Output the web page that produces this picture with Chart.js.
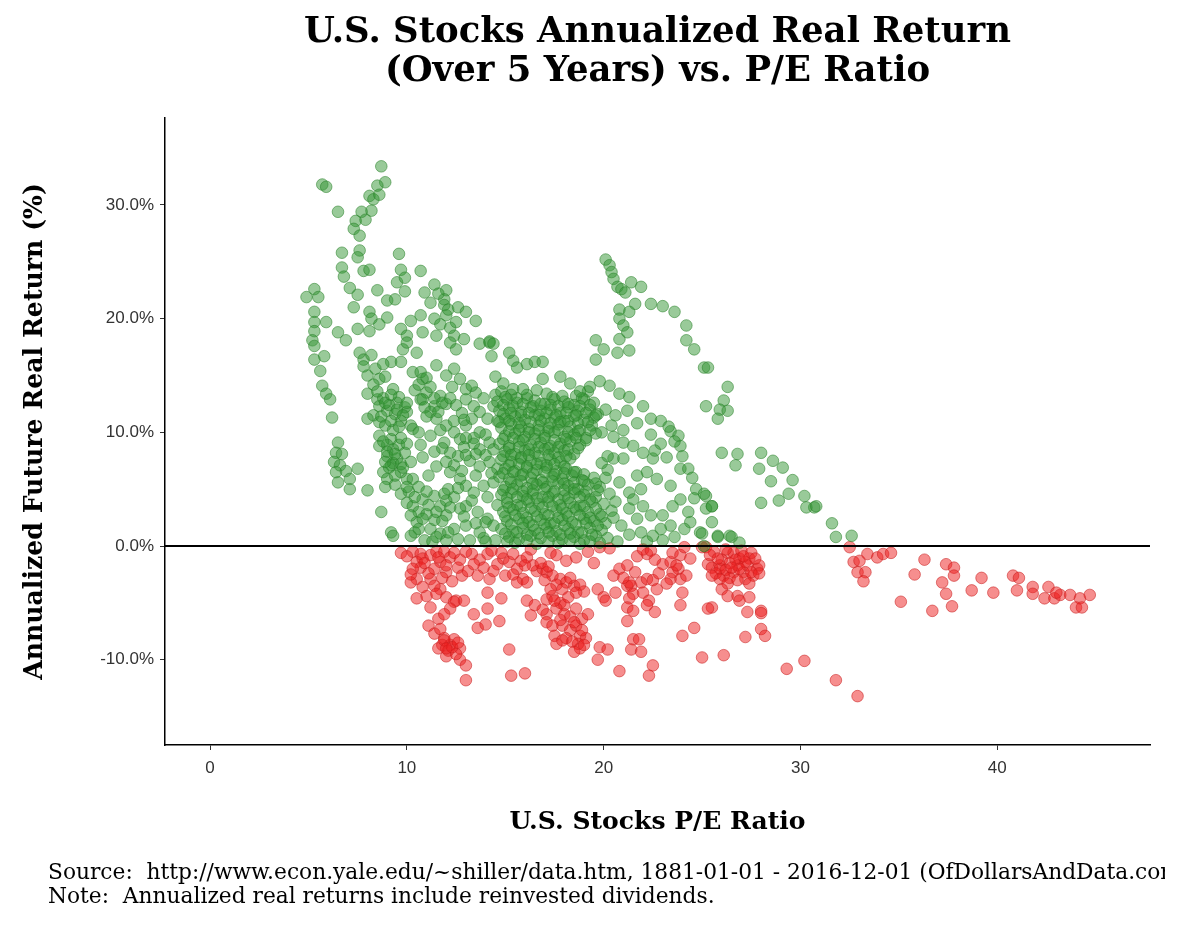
<!DOCTYPE html>
<html lang="en">
<head>
<meta charset="utf-8"/>
<title>U.S. Stocks Annualized Real Return vs. P/E Ratio</title>
<script src="https://cdn.jsdelivr.net/npm/chart.js"></script>
<style>
  body { margin: 0; background: #fff; }
  canvas { display: block; }
</style>
</head>
<body>
<canvas id="scatter" width="1200" height="931"></canvas>
<script>
// P/E ratio vs annualized 5-year real return (%)
const greenUpperLeft = [
  [8.7,33.4],[5.7,31.8],[5.9,31.6],[8.9,32.0],[8.5,31.7],[8.1,30.8],[8.3,30.5],[8.6,30.9],[8.2,29.5],[7.7,29.4],
  [6.5,29.4],[7.4,28.6],[7.9,28.7],[7.3,27.9],[7.6,27.3],[6.7,25.8],[7.6,26.0],[7.5,25.4],[9.6,25.7],[6.7,24.5],
  [6.8,23.7],[7.8,24.2],[8.1,24.3],[10.7,24.2],[9.7,24.3],[9.5,23.2],[9.9,23.6],[7.1,22.7],[7.5,22.1],[7.3,21.0],
  [8.5,22.5],[9.9,22.4],[5.3,22.6],[4.9,21.9],[5.5,21.9],[11.4,23.0],[12.0,22.5],[11.9,21.7],[9.0,21.6],[9.4,21.7],
  [8.1,20.6],[8.2,20.0],[5.3,20.6],[5.3,19.7],[5.3,18.9],[5.2,18.1],[5.9,19.7],[6.5,18.8],[6.9,18.1],[7.5,19.1],
  [8.1,18.9],[8.6,19.5],[9.0,20.1],[10.2,19.8],[10.7,20.3],[11.4,20.0],[12.0,20.3],[12.5,19.7],[13.5,19.8],[14.2,17.9],
  [9.7,19.1],[10.0,18.5],[10.8,18.8],[11.5,18.5],[12.4,18.5],[12.9,18.2],[11.6,22.2],[11.9,21.2],[12.1,20.8],[11.7,19.5],
  [12.2,19.2],[12.6,21.0],[13.0,20.6],[11.2,21.4],[10.9,22.3],[13.7,17.8],[14.2,18.0]
];
const greenLeft = [
  [5.3,17.6],[5.8,16.7],[5.3,16.4],[5.6,15.4],[5.7,14.1],[5.9,13.4],[6.1,12.9],[6.2,11.3],
  [6.5,9.1],[6.4,8.2],[6.7,8.1],[6.3,7.4],[6.6,7.1],[6.4,6.5],[6.9,6.6],[6.5,5.6],[7.1,5.9],[7.5,6.8],[7.1,5.0],[8.0,4.9],
  [7.6,17.0],[7.8,16.4],[8.0,15.0],[8.6,14.7],[9.2,16.2],[9.7,16.2],[9.8,17.3],[10.0,17.9],
  [10.3,15.3],[10.8,14.7],[11.0,13.5],[10.7,12.9],[11.4,12.3],[11.7,13.2],
  [8.0,13.4],[8.5,12.9],[8.6,12.3],[9.0,11.9],[8.3,11.5],[8.0,11.2],[8.6,10.9],
  [9.3,13.8],[9.5,12.6],[10.0,11.8],[10.2,10.6],[10.3,10.3],
  [8.6,9.7],[9.2,9.4],[9.3,8.5],[9.0,7.9],[9.5,7.7],[9.2,7.1],[8.8,6.5],[9.7,6.5],[9.0,5.9],[10.0,5.9],[10.3,5.9],
  [8.7,3.0],[9.2,1.2],[9.3,0.9],[10.0,3.8],[10.3,3.5],[10.8,4.1],[11.4,4.4],[11.7,3.5],[12.0,2.7],
  [10.5,2.1],[11.2,1.5],[11.7,1.1],[10.2,0.9],[10.7,15.3],[10.5,17.0],[11.5,15.9],[12.0,15.0],[12.4,15.6],
  [10.8,12.9],[11.2,11.8],[11.5,11.2],[12.0,10.6],[12.4,10.0],[12.7,9.4],[11.9,9.1],[12.2,8.2],[12.0,7.4],[12.4,7.1],
  [12.2,17.9],[12.5,17.3],[12.7,14.7],[13.0,13.8],[13.0,12.9],[13.4,12.3],[13.7,11.8],[14.1,11.2],[14.4,12.3],
  [13.7,10.0],[14.2,9.1],[14.4,8.5],[13.7,8.5],[12.7,5.9],[13.0,5.3],[13.4,4.7],[13.9,5.3],[14.4,5.6],
  [13.0,3.5],[13.6,3.0],[14.1,2.4],[14.4,1.8],[13.7,1.2],[13.0,1.8],
  [8.8,13.0],[9.1,12.4],[9.4,11.6],[9.7,11.0],[8.9,10.6],[9.3,10.2],[9.9,12.2],[9.6,13.1],[8.6,8.8],[9.0,8.9],
  [9.6,8.9],[9.9,8.2],[9.3,7.3],[9.7,7.2],[9.1,6.9],[8.9,5.2],[9.4,5.4],[9.7,4.6],[10.1,4.8],[10.6,3.0],
  [11.0,2.8],[11.4,2.3],[10.9,0.5],[11.3,0.4],[10.4,1.2],
  [13.5,13.5],[13.9,13.0],[14.5,13.3],[14.6,11.0],[14.0,9.8],[13.4,9.5],[13.2,7.5],[13.7,7.0],[14.2,7.4],[14.6,6.8],
  [13.5,6.2],[14.1,4.3],[14.6,3.6],[13.9,0.7],[14.5,0.5],[13.0,10.6],[13.3,11.2],[12.8,11.7],[12.9,8.7],[12.6,7.9],
  [12.8,6.6],[12.4,4.3],[12.7,3.3],[12.9,2.6],[12.4,1.5],[12.6,0.6],
  [12.3,14.0],[13.3,14.1],[12.0,12.5],[12.5,12.4],[12.4,11.0],[12.9,11.1],[13.0,9.5],[13.4,9.0],[13.0,8.0],[13.5,8.1],
  [14.0,8.0],[12.2,6.5],[14.3,6.4],[12.1,5.0],[12.6,5.1],[12.0,4.0],[13.3,4.0],[13.5,2.0],[14.0,2.1],[12.0,0.5],
  [13.2,0.5],[14.0,0.4]
];
const greenLeftDense = [
  [7.8,15.8],[8.2,16.8],[8.4,15.6],[8.8,16.0],[8.3,14.2],[8.9,14.9],[8.5,13.6],[8.9,12.6],[9.2,13.3],[9.5,12.0],
  [9.8,11.5],[9.2,11.0],[8.7,11.4],[9.6,10.5],[10.0,12.6],[10.4,13.7],[10.6,14.2],[11.0,14.8],[11.2,14.0],[11.4,13.0],
  [10.9,12.2],[11.0,11.4],[11.6,11.8],[11.8,12.6],[12.2,13.0],[8.8,9.2],[9.0,8.3],[9.4,8.1],[9.7,9.5],[10.0,9.0],
  [9.4,6.2],[9.8,6.9],[10.2,7.4],[8.9,7.4],[10.0,5.2],[10.4,4.3],[10.6,5.2],[11.0,4.8],[11.1,3.6],[11.5,3.0],
  [10.8,2.4],[10.2,2.7],[11.8,2.2],[12.2,3.4],[11.9,4.6],[10.6,1.5],[11.5,0.8],[12.1,1.2],[11.1,6.2],[11.5,7.0],
  [10.8,7.8],[11.4,8.3],[11.8,8.6],[10.7,8.9],[11.2,9.7],[10.6,10.0],[11.7,10.2]
];
const greenCentre = [
  [14.8,13.6],[15.3,13.3],[16.6,13.7],[17.1,13.4],[18.6,13.2],[19.2,13.6],
  [14.6,12.7],[15.1,12.9],[15.6,12.6],[16.1,13.0],[16.5,12.8],[17.0,12.5],[17.5,12.9],[18.0,12.7],[18.5,12.4],[19.0,12.9],[19.5,12.6],
  [14.7,11.9],[15.2,12.1],[15.8,11.8],[16.3,12.2],[16.8,11.9],[17.3,12.0],[17.8,11.7],[18.2,12.2],[18.7,11.9],[19.3,12.0],[19.7,11.6],
  [15.0,11.2],[15.5,11.4],[16.0,11.1],[16.5,11.5],[17.0,11.2],[17.5,11.3],[18.0,11.0],[18.5,11.4],[19.0,11.1],[19.5,11.3],
  [14.8,10.4],[15.3,10.7],[15.8,10.5],[16.2,10.3],[16.7,10.6],[17.2,10.4],[17.7,10.7],[18.3,10.5],[18.8,10.2],[19.4,10.6],
  [15.0,9.7],[15.5,9.9],[16.0,9.6],[16.5,9.9],[17.0,9.7],[17.5,10.0],[18.0,9.6],[18.5,9.8],[19.1,9.5],[19.6,9.9],
  [14.7,9.0],[15.2,8.8],[15.7,9.2],[16.3,8.9],[16.8,9.1],[17.3,8.8],[17.8,9.0],[18.3,9.2],[18.8,8.9],
  [15.0,8.3],[15.5,8.1],[16.0,8.4],[16.5,8.2],[17.0,8.5],[17.5,8.2],[18.0,8.4],[18.5,8.1],
  [14.8,7.6],[15.3,7.4],[15.8,7.7],[16.3,7.5],[16.8,7.3],[17.3,7.6],[17.8,7.4],[18.3,7.7],[19.9,7.3],
  [15.0,6.8],[15.5,6.6],[16.1,6.9],[16.6,6.7],[17.1,6.9],[17.6,6.6],[18.1,6.8],[18.6,6.5],[20.2,6.7],
  [14.7,6.1],[15.2,5.9],[15.8,6.2],[16.3,6.0],[16.8,5.8],[17.4,6.1],[17.9,5.9],[18.4,6.2],[18.9,5.8],[19.5,6.0],
  [15.0,5.2],[15.6,5.4],[16.1,5.1],[16.6,5.4],[17.1,5.2],[17.7,5.5],[18.2,5.3],[18.7,5.0],[19.2,5.4],[19.8,5.2],
  [14.8,4.5],[15.3,4.7],[15.9,4.4],[16.4,4.6],[16.9,4.3],[17.4,4.6],[18.0,4.4],[18.5,4.7],[19.0,4.5],[19.6,4.3],[20.3,4.6],
  [15.1,3.8],[15.6,3.6],[16.2,3.9],[16.7,3.7],[17.2,3.9],[17.8,3.6],[18.3,3.8],[18.8,3.5],[19.4,3.9],[20.0,3.7],[20.6,3.9],
  [14.9,3.0],[15.4,3.2],[15.9,2.9],[16.5,3.1],[17.0,2.8],[17.6,3.1],[18.1,2.9],[18.6,3.2],[19.2,3.0],[19.8,2.8],[20.4,3.1],
  [15.1,2.2],[15.7,2.4],[16.2,2.1],[16.8,2.3],[17.3,2.0],[17.9,2.3],[18.4,2.1],[19.0,2.4],[19.5,2.2],[20.1,2.0],
  [14.8,1.5],[15.4,1.3],[15.9,1.6],[16.5,1.4],[17.1,1.6],[17.6,1.3],[18.2,1.5],[18.7,1.2],[19.3,1.6],[19.9,1.4],
  [15.2,0.8],[15.7,0.6],[16.3,0.9],[16.8,0.7],[17.4,0.9],[17.9,0.6],[18.5,0.8],[19.0,0.5],[19.6,0.9],[20.2,0.7],
  [15.5,0.3],[16.6,0.2],[17.7,0.3],[18.8,0.2],[19.8,0.3]
];
const greenCentreDense = [
  [15.0,13.1],[15.6,13.0],[16.1,13.3],[17.4,13.1],[17.9,13.2],[18.9,13.0],
  [14.9,12.4],[15.4,12.3],[15.9,12.5],[16.4,12.3],[16.8,12.5],[17.3,12.4],[17.7,12.3],[18.2,12.5],[18.8,12.3],[19.3,12.4],
  [14.9,11.6],[15.3,11.7],[15.8,11.5],[16.2,11.7],[16.7,11.5],[17.1,11.7],[17.6,11.5],[18.1,11.7],[18.6,11.5],[19.1,11.7],[19.6,11.5],
  [14.7,10.9],[15.2,11.0],[15.7,10.8],[16.3,10.9],[16.8,11.0],[17.3,10.8],[17.8,10.9],[18.2,11.0],[18.7,10.8],[19.2,10.9],
  [15.2,10.1],[15.7,10.2],[16.2,10.0],[16.7,10.2],[17.2,10.1],[17.7,10.2],[18.2,10.0],[18.7,10.1],[19.3,10.2],
  [14.9,9.4],[15.4,9.5],[15.9,9.3],[16.5,9.4],[17.0,9.5],[17.5,9.3],[18.1,9.4],[18.6,9.5],[19.1,9.3],
  [15.2,8.6],[15.7,8.7],[16.2,8.5],[16.7,8.7],[17.2,8.6],[17.7,8.7],[18.2,8.5],[18.7,8.6],
  [14.9,7.9],[15.3,8.0],[15.8,7.8],[16.2,8.0],[16.7,7.9],[17.2,8.0],[17.7,7.8],[18.1,7.9],
  [15.2,7.1],[15.7,7.2],[16.1,7.0],[16.6,7.2],[17.1,7.1],[17.5,7.2],[18.0,7.0],
  [14.9,6.4],[15.4,6.5],[15.9,6.3],[16.4,6.4],[17.0,6.5],[17.5,6.3],[18.0,6.4],[18.5,6.5],[19.0,6.3],
  [15.3,5.6],[15.8,5.7],[16.4,5.5],[16.9,5.6],[17.4,5.7],[18.0,5.5],[18.5,5.6],[19.0,5.7],[19.6,5.5],
  [14.9,4.9],[15.4,5.0],[15.9,4.8],[16.4,4.9],[17.0,5.0],[17.5,4.8],[18.0,4.9],[18.5,5.0],[19.1,4.8],[19.7,4.9],
  [15.1,4.2],[15.6,4.3],[16.1,4.1],[16.6,4.2],[17.2,4.3],[17.7,4.1],[18.2,4.2],[18.8,4.3],[19.3,4.1],
  [15.2,3.4],[15.8,3.5],[16.3,3.3],[16.9,3.4],[17.4,3.5],[17.9,3.3],[18.5,3.4],[19.0,3.5],[19.6,3.3],
  [15.0,2.6],[15.5,2.7],[16.1,2.5],[16.6,2.6],[17.2,2.7],[17.7,2.5],[18.2,2.6],[18.8,2.7],[19.3,2.5],[19.9,2.6],
  [15.3,1.9],[15.9,2.0],[16.4,1.8],[17.0,1.9],[17.5,2.0],[18.0,1.8],[18.6,1.9],[19.1,2.0],[19.7,1.8],
  [15.0,1.1],[15.6,1.2],[16.1,1.0],[16.7,1.1],[17.2,1.2],[17.8,1.0],[18.3,1.1],[18.9,1.2],[19.4,1.0],
  [15.1,0.4],[16.1,0.5],[17.2,0.4],[18.3,0.5],[19.3,0.4]
];
const greenUpperRight = [
  [20.1,25.2],[20.3,24.7],[20.4,24.1],[20.5,23.5],[20.7,22.8],[20.9,22.6],[21.1,22.3],[21.4,23.2],[21.9,22.8],
  [21.6,21.3],[21.3,20.6],[20.8,20.8],[20.8,20.0],[21.0,19.4],[21.2,18.8],[20.8,18.2],
  [22.4,21.3],[23.0,21.1],[23.6,20.6],[24.2,19.4],[24.2,18.1],[24.6,17.3],[25.1,15.7],[25.3,15.7],
  [26.3,14.0],[26.1,12.8],[25.9,12.0],[25.8,11.2],[25.2,12.3],[26.3,11.9],
  [19.6,18.1],[20.0,17.3],[19.6,16.4],[20.7,17.0],[21.3,17.2],
  [14.4,17.8],[14.3,16.7],[15.2,17.0],[15.4,16.3],[15.6,15.7],[16.1,16.0],[16.5,16.2],[16.9,16.2],
  [14.5,14.9],[14.9,14.3],[15.4,13.8],[15.9,13.8],[16.9,14.7],[17.8,14.9],[18.3,14.3],[18.8,13.6],[19.3,14.0],
  [19.8,14.5],[20.3,14.1],[20.8,13.4],[21.3,13.1],[22.0,12.3],[22.4,11.2],[22.9,11.0],[23.4,10.1],[23.8,9.7],[23.9,8.8]
];
const greenRight = [
  [21.0,9.1],[21.5,8.8],[22.0,8.2],[21.0,7.7],[20.5,7.7],[20.2,7.9],
  [22.5,7.7],[23.2,7.8],[23.9,6.8],[23.4,5.3],[22.7,5.9],[22.2,6.5],[21.7,6.2],[21.9,5.0],
  [20.1,6.0],[20.8,5.6],[21.3,4.7],[24.7,5.0],[25.2,4.4],[25.5,3.5],[24.4,2.1],[24.9,1.2],[25.8,0.9],[26.4,0.9],[26.9,0.3],
  [23.9,4.1],[23.5,3.5],[23.0,2.7],[23.4,1.8],[22.9,1.5],[22.5,0.9],
  [21.5,4.1],[22.0,3.5],[21.3,3.3],[21.7,2.4],[22.4,2.7],
  [23.3,10.5],[23.6,9.2],[24.0,7.9],[24.3,6.8],[24.5,6.0],
  [20.1,12.0],[20.6,11.5],[21.2,11.9],[20.4,10.6],[21.0,10.2],[21.7,10.8],[19.9,10.0],[20.5,9.6],[22.4,9.8],[22.9,9.0],[22.6,8.4],
  [20.5,2.5],[20.9,1.8],[21.3,1.0],[20.7,0.4],[21.9,1.2],[22.2,0.4],[23.0,0.5],[23.6,0.8],[24.1,1.5],[24.3,3.0],[24.6,4.2],
  [26.0,8.2],[26.8,8.1],[26.7,7.1],[28.0,8.2],[27.9,6.8],[28.6,7.5],[29.1,6.9],[28.5,5.7],[29.6,5.8],[28.0,3.8],
  [28.9,4.0],[29.4,4.6],[30.2,4.4],[30.7,3.4],[30.3,3.4],[30.8,3.5],[31.6,2.0],[31.8,0.8],[32.6,0.9],[25.1,4.6],
  [25.2,3.3],[25.5,3.5],[25.5,2.1],[25.0,1.1],[25.8,0.8],[26.5,0.8],[25.1,0.0]
];
const redLeft = [
  [9.7,-0.6],[10.3,-0.5],[10.7,-0.7],[10.5,-1.4],[10.8,-1.1],[11.2,-0.8],[11.5,-0.5],[11.9,-0.5],[12.2,-1.0],[11.7,-1.4],
  [11.4,-2.0],[10.7,-1.9],[10.3,-2.0],[12.0,-2.3],[11.2,-2.9],[10.5,-2.9],[10.2,-3.2],[10.5,-4.6],[11.0,-4.4],[11.7,-3.8],
  [12.0,-4.5],[12.5,-4.8],[12.9,-4.8],[12.4,-4.9],[11.2,-5.4],[11.6,-6.4],[11.1,-7.0],[11.4,-7.7],[11.9,-8.1],[12.2,-8.7],
  [11.8,-8.7],[12.7,-9.0],[12.1,-9.2],[12.7,-10.0],[13.0,-10.5],[13.0,-11.8],
  [10.0,-0.9],[10.9,-1.5],[11.1,-2.4],[11.6,-1.0],[12.0,-1.7],[12.4,-0.6],[12.6,-1.9],[11.8,-2.8],[11.4,-3.5],[10.8,-3.6],
  [10.2,-2.5],[12.3,-3.1],[12.8,-2.6],[11.5,-4.2],[12.2,-5.5],[11.9,-6.0],[11.7,-7.3],[12.4,-8.2],[12.0,-9.7],[11.6,-9.0],
  [12.5,-9.5],[11.9,-8.3],[12.3,-8.9],[12.6,-8.5],[12.0,-9.0]
];
const redCentre = [
  [12.7,-1.2],[13.1,-2.2],[13.3,-0.7],[13.7,-1.2],[14.1,-0.7],[13.9,-1.9],[13.6,-2.6],[14.2,-2.9],[14.6,-1.6],[14.9,-1.1],
  [15.2,-1.4],[15.8,-1.3],[15.6,-2.0],[16.1,-1.0],[16.3,-0.3],[17.3,-0.6],[15.9,-2.9],[15.6,-3.2],[16.1,-3.2],[14.1,-4.1],
  [14.8,-4.6],[14.1,-5.5],[13.4,-6.0],[13.6,-7.2],[14.0,-6.9],[14.7,-6.6],[15.2,-9.1],[15.3,-11.4],[16.0,-11.2],
  [16.6,-2.2],[16.9,-2.0],[17.1,-2.3],[17.4,-2.6],[17.8,-2.9],[18.1,-3.2],[18.5,-3.5],[18.3,-2.8],[18.8,-3.4],[19.0,-4.0],
  [18.6,-4.1],[16.1,-4.8],[16.5,-5.2],[17.1,-4.7],[17.4,-4.4],[17.8,-5.0],[18.0,-5.2],[17.6,-5.5],[18.0,-6.0],[18.3,-6.2],
  [17.1,-6.0],[17.1,-6.7],[17.4,-7.0],[17.9,-7.0],[18.3,-7.4],[18.6,-7.0],[18.9,-6.4],[18.8,-7.9],[19.1,-8.1],[18.7,-8.6],
  [18.8,-9.0],[18.1,-8.1],[17.5,-7.9],[17.6,-8.6],[17.6,-0.8],[18.1,-1.3],[18.6,-1.0],[19.2,-0.5],[19.5,-1.5],[19.8,-0.1],[20.3,-0.2],
  [16.4,-1.7],[16.8,-1.5],[17.2,-1.8],[17.0,-3.0],[17.6,-3.4],[17.3,-3.8],[17.9,-3.8],[18.2,-4.5],[17.5,-4.8],[17.8,-6.5],
  [18.5,-6.7],[18.9,-7.4],[18.4,-8.4],[19.0,-8.7],[18.5,-9.3],[17.9,-8.3],[18.6,-5.5],[19.2,-6.0],[16.9,-5.6],[16.3,-6.1],
  [13.4,-1.6],[14.4,-2.2],[14.8,-0.6],[15.4,-0.7],[15.0,-2.6],[15.4,-2.5],[16.0,-1.7],[13.0,-0.5],[14.3,-0.4]
];
const redRightCentre = [
  [19.7,-3.8],[20.0,-4.5],[20.1,-4.8],[20.6,-4.1],[21.2,-3.5],[21.4,-3.5],[21.5,-4.2],[21.3,-4.6],[21.2,-5.4],[21.5,-5.7],
  [21.2,-6.6],[21.5,-8.2],[21.8,-8.2],[21.4,-9.1],[21.9,-9.3],[22.5,-10.5],[22.3,-11.4],[20.8,-11.0],[19.8,-8.9],[20.2,-9.1],[19.7,-10.0],
  [20.5,-2.6],[20.8,-2.0],[21.2,-1.7],[21.7,-0.9],[22.2,-0.7],[22.0,-0.3],[22.4,-0.4],[21.3,-3.2],[21.9,-3.2],[22.2,-2.9],
  [22.5,-3.0],[22.0,-4.1],[22.7,-3.8],[22.3,-4.8],[22.2,-5.2],[22.6,-5.8],[23.0,-1.6],[23.4,-1.4],[23.5,-0.6],[23.9,-0.8],
  [23.8,-2.0],[23.5,-2.3],[23.4,-2.9],[23.9,-2.9],[24.2,-2.6],[24.4,-1.1],[24.1,-0.1],[23.9,-5.2],[24.0,-4.1],[24.6,-7.2],
  [24.0,-7.9],[25.0,-0.1],[21.0,-2.8],[22.8,-2.4],[23.2,-3.3],[22.6,-1.2],[23.7,-1.7],[21.6,-2.3]
];
const redCluster = [
  [25.2,-0.1],[25.3,-1.6],[25.5,-1.9],[25.9,-1.7],[26.3,-0.6],[26.6,-0.6],[26.9,-1.1],[27.4,-1.1],[27.8,-2.0],[27.6,-2.6],
  [27.1,-2.3],[26.6,-2.3],[26.1,-2.6],[25.9,-2.0],[26.8,-1.7],[27.3,-1.7],[27.9,-1.7],[25.6,-0.5],[26.0,-1.2],[26.4,-1.5],
  [27.0,-0.4],[27.5,-0.6],[26.2,-2.1],[27.2,-2.9],[25.7,-2.4],
  [25.4,-0.8],[25.8,-1.1],[26.2,-0.3],[26.7,-1.2],[27.2,-1.4],[27.7,-1.1],[27.5,-2.3],[26.9,-2.0],[26.4,-2.8],[25.9,-2.9],
  [26.5,-1.9],[27.1,-0.9],[25.5,-2.6],[27.9,-2.4],[26.3,-3.3],[26.8,-3.0],[27.4,-3.3],
  [26.0,-3.8],[26.3,-4.4],[26.8,-4.4],[26.9,-4.8],[27.4,-4.5],[25.5,-5.4],[25.3,-5.5],[27.3,-5.8],[28.0,-5.7],[28.0,-5.9],
  [27.2,-8.0],[28.0,-7.3],[28.2,-7.9],[26.1,-9.6],[25.0,-9.8],[29.3,-10.8],[30.2,-10.1],[31.8,-11.8],[32.9,-13.2]
];
const redTail = [
  [32.5,-0.1],[32.7,-1.4],[33.0,-1.3],[33.4,-0.7],[33.9,-1.0],[34.2,-0.7],[34.6,-0.6],[32.9,-2.3],[33.3,-2.3],[33.2,-3.1],
  [35.1,-4.9],[36.3,-1.2],[35.8,-2.5],[37.4,-1.6],[37.8,-1.9],[37.8,-2.6],[37.2,-3.2],[37.4,-4.2],[36.7,-5.7],[37.7,-5.3],
  [38.7,-3.9],[39.2,-2.8],[39.8,-4.1],[40.8,-2.6],[41.1,-2.8],[41.0,-3.9],[41.8,-3.6],[41.8,-4.2],[42.6,-3.6],[42.4,-4.6],
  [42.9,-4.6],[43.2,-4.3],[43.7,-4.3],[44.2,-4.6],[44.7,-4.3],[44.0,-5.4],[44.3,-5.4],[43.0,-4.1]
];

const xTicks = [0, 10, 20, 30, 40];
const yTicks = [-10, 0, 10, 20, 30];

const toPoints = arr => arr.map(([x, y]) => ({ x, y }));
const greenData = toPoints([...greenUpperLeft, ...greenLeft, ...greenLeftDense, ...greenCentre,
  ...greenCentreDense, ...greenUpperRight, ...greenRight]);
const redData = toPoints([...redLeft, ...redCentre, ...redRightCentre, ...redCluster, ...redTail]);

const serif = '"DejaVu Serif", serif';

function fitSize(ctx, text, weight, family, width) {
  ctx.font = weight + ' 100px ' + family;
  return 100 * width / ctx.measureText(text).width;
}

const texts = {
  id: 'texts',
  afterDatasetsDraw(chart) {
    // zero reference line across the plot
    const ctx = chart.ctx;
    const a = chart.chartArea;
    const y0 = chart.scales.y.getPixelForValue(0);
    ctx.save();
    ctx.strokeStyle = '#000';
    ctx.lineWidth = 2;
    ctx.beginPath();
    ctx.moveTo(a.left, y0);
    ctx.lineTo(a.right, y0);
    ctx.stroke();
    ctx.restore();
  },
  afterDraw(chart) {
    const ctx = chart.ctx;
    const a = chart.chartArea;
    const cx = (a.left + a.right) / 2;
    ctx.save();
    ctx.fillStyle = '#000';
    ctx.textAlign = 'center';
    ctx.textBaseline = 'middle';

    const t1 = 'U.S. Stocks Annualized Real Return';
    const t2 = '(Over 5 Years) vs. P/E Ratio';
    const ts = fitSize(ctx, t1, 'bold', serif, 707);
    ctx.font = 'bold ' + ts + 'px ' + serif;
    ctx.fillText(t1, cx, 33);
    ctx.fillText(t2, cx, 72);

    const xt = 'U.S. Stocks P/E Ratio';
    ctx.font = 'bold ' + fitSize(ctx, xt, 'bold', serif, 296) + 'px ' + serif;
    ctx.fillText(xt, cx, 822);

    const yt = 'Annualized Future Real Return (%)';
    ctx.font = 'bold ' + fitSize(ctx, yt, 'bold', serif, 497) + 'px ' + serif;
    ctx.save();
    ctx.translate(35, (a.top + a.bottom) / 2);
    ctx.rotate(-Math.PI / 2);
    ctx.fillText(yt, 0, 0);
    ctx.restore();

    const note = 'Note:  Annualized real returns include reinvested dividends.';
    const src = 'Source:  http://www.econ.yale.edu/~shiller/data.htm, 1881-01-01 - 2016-12-01 (OfDollarsAndData.com)';
    ctx.font = fitSize(ctx, note, 'normal', serif, 667) + 'px ' + serif;
    ctx.textAlign = 'left';
    ctx.beginPath();
    ctx.rect(0, 850, 1165, 80);
    ctx.clip();
    ctx.fillText(src, 48, 873);
    ctx.fillText(note, 48, 897);
    ctx.restore();
  }
};

new Chart(document.getElementById('scatter'), {
  type: 'scatter',
  data: {
    datasets: [
      {
        label: 'Positive',
        data: greenData,
        backgroundColor: 'rgba(52,150,52,0.5)',
        borderColor: 'rgba(40,130,40,0.55)',
        borderWidth: 1,
        pointRadius: 5.8,
        pointHoverRadius: 5.8
      },
      {
        label: 'Negative',
        data: redData,
        backgroundColor: 'rgba(238,30,30,0.5)',
        borderColor: 'rgba(200,30,30,0.55)',
        borderWidth: 1,
        pointRadius: 5.8,
        pointHoverRadius: 5.8
      }
    ]
  },
  options: {
    responsive: false,
    animation: false,
    devicePixelRatio: 1,
    layout: { padding: { top: 118, right: 50, bottom: 146, left: 0 } },
    plugins: { legend: { display: false }, tooltip: { enabled: false } },
    scales: {
      x: {
        type: 'linear',
        min: -2.29,
        max: 47.76,
        afterFit: s => { s.height = 40; },
        afterBuildTicks: s => { s.ticks = xTicks.map(v => ({ value: v })); },
        border: { display: true, color: '#000', width: 1.5 },
        grid: { display: true, drawOnChartArea: false, drawTicks: true, tickLength: 5, tickColor: '#333' },
        ticks: { color: '#333', padding: 8, font: { family: '"Liberation Sans", Arial, sans-serif', size: 17 } }
      },
      y: {
        type: 'linear',
        min: -17.5,
        max: 37.65,
        afterFit: s => { s.width = 165; },
        afterBuildTicks: s => { s.ticks = yTicks.map(v => ({ value: v })); },
        border: { display: true, color: '#000', width: 1.5 },
        grid: { display: true, drawOnChartArea: false, drawTicks: true, tickLength: 5, tickColor: '#333' },
        ticks: {
          color: '#333',
          padding: 6,
          font: { family: '"Liberation Sans", Arial, sans-serif', size: 17 },
          callback: v => v.toFixed(1) + '%'
        }
      }
    }
  },
  plugins: [texts]
});
</script>
</body>
</html>
